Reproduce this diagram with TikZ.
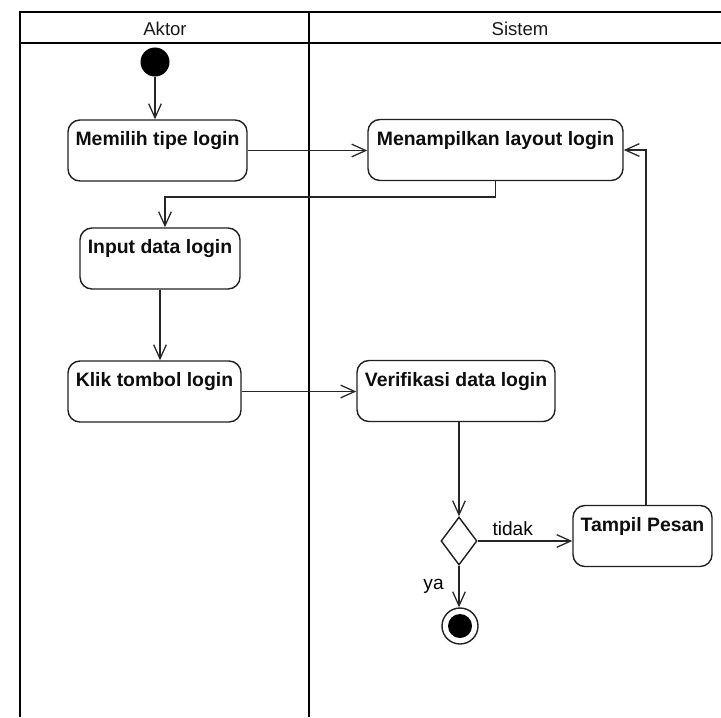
\documentclass[tikz,border=0pt]{standalone}
\usepackage{fontspec}
\setmainfont{Liberation Sans}
\usetikzlibrary{arrows.meta, shapes, calc, positioning}
\tikzset{
	every node/.style={
		font=\fontsize{13.6}{16}\selectfont
	},
	lajur/.style={
		draw=black,
		line width=1.4pt
	},
	judul/.style={
		text=gray!20!black,
		font=\fontsize{13.2}{16}\selectfont
	},
	aktivitas/.style={
		shape=rectangle,
		draw=gray!25!black,
		line width=1pt,
		rounded corners=0.3cm,
		inner sep=0pt,
		text height=0.64cm,
		text depth=0.885cm,
		text centered,
		text=gray!10!black,
		font=\fontsize{13.8}{16}\selectfont\bfseries
	},
	keputusan/.style={
		shape=diamond,
		draw=gray!25!black,
		line width=1pt,
		fill=white,
		inner sep=0pt,
		minimum width=0.9cm,
		minimum height=1.2cm
	},
	awal/.style={
		shape=circle,
		fill=black,
		inner sep=0pt,
		minimum size=0.725cm
	},
	akhir/.style={
		shape=circle,
		draw=gray!25!black,
		line width=1pt,
		fill=white,
		inner sep=0pt,
		minimum size=0.9cm,
		path picture={\fill[black] (path picture bounding box.center) circle (0.3cm);}
	},
	alur/.style={
		draw=gray!30!black,
		line width=0.9pt,
		-{Straight Barb[length=10pt, width=9pt]}
	}
}

\begin{document}
\begin{tikzpicture}[x=0.025cm, y=-0.025cm]
	\useasboundingbox (0,0) rectangle (721,717);
	
	% lajur
	\draw[lajur] (20,717) |- (721,12);
	\draw[lajur] (20,43) -- (721,43);
	\draw[lajur] (309,12) -- (309,717);
	\node[judul] (aktor) at (165,29) {Aktor};
	\node[judul] (sistem) at (520,29) {Sistem};
	
	% aktivitas
	\node[awal] (mulai) at (155,62) {};
	\node[aktivitas, minimum width=4.475cm] (memilih) at (157.5,150.5) {Memilih tipe login};
	\node[aktivitas, minimum width=6.375cm] (layout) at (495.5,150) {Menampilkan layout login};
	\node[aktivitas, minimum width=4cm] (input) at (160,258.5) {Input data login};
	\node[aktivitas, minimum width=4.325cm] (klik) at (154.5,391.5) {Klik tombol login};
	\node[aktivitas, minimum width=4.95cm] (verifikasi) at (456,391) {Verifikasi data login};
	\node[keputusan] (cek) at (459,541) {};
	\node[aktivitas, minimum width=3.475cm] (pesan) at (642.5,536) {Tampil Pesan};
	\node[akhir] (selesai) at (460,626) {};
	
	% alur
	\coordinate (belok) at (165,197);
	\draw[alur] (mulai) -- (mulai |- memilih.north);
	\draw[alur] (memilih.east) -- (memilih.east -| layout.west);
	\draw[alur] (layout.south) |- (belok) -- (belok |- input.north);
	\draw[alur] (input.south) -- (input.south |- klik.north);
	\draw[alur] (klik.east) -- (klik.east -| verifikasi.west);
	\draw[alur] (cek.north |- verifikasi.south) -- (cek.north);
	\draw[alur] (cek.east) -- node[pos=0.37, above] {tidak} (cek.east -| pesan.west);
	\draw[alur] (cek.south) -- node[pos=0.5, left, xshift=-0.25cm] {ya} (cek.south |- selesai.north);
	\draw[alur] ([xshift=0.09cm]pesan.north) |- (layout.east);
	
\end{tikzpicture}
\end{document}
